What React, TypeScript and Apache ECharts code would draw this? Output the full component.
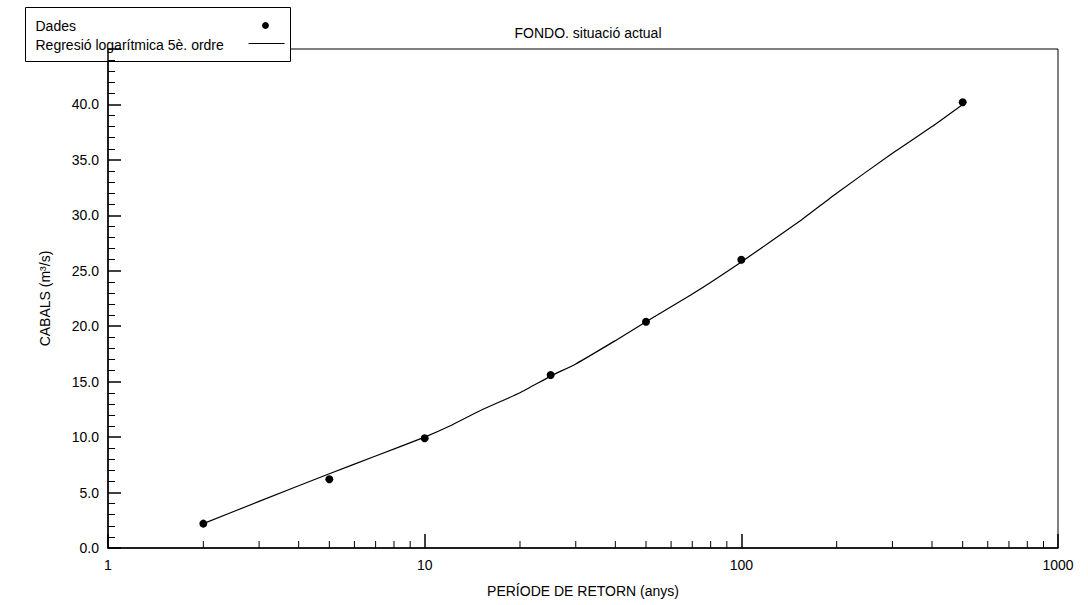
import React, { useEffect, useRef } from "react";
import * as echarts from "echarts";

const chartTitle = "FONDO. situació actual";
const xAxisName = "PERÍODE DE RETORN (anys)";
const yAxisName = "CABALS (m³/s)";
const legendLabels = ["Dades", "Regresió logarítmica 5è. ordre"];

// Observed data (return period, flow)
const dataX = [2, 5, 10, 25, 50, 100, 500];
const dataY = [2.2, 6.2, 9.9, 15.6, 20.4, 26.0, 40.2];

// Fitted regression curve
const fitX = [2, 3, 5, 7, 10, 12, 15, 20, 25, 30, 40, 50, 70, 100, 150, 200, 300, 400, 500];
const fitY = [2.2, 4.2, 6.7, 8.3, 10.0, 11.0, 12.4, 14.0, 15.5, 16.6, 18.7, 20.4, 22.9, 25.8, 29.3, 32.0, 35.6, 38.0, 40.0];

// Minor ticks of the logarithmic x axis
const minorTicksX = [2, 3, 4, 5, 6, 7, 8, 9, 20, 30, 40, 50, 60, 70, 80, 90, 200, 300, 400, 500, 600, 700, 800, 900];

const FONT = "'Liberation Sans', Arial, sans-serif";

export default function App() {
  const ref = useRef<HTMLDivElement>(null);

  useEffect(() => {
    if (!ref.current) return;
    const chart = echarts.init(ref.current, null, { renderer: "svg" });
    const option: any = {
      animation: false,
      backgroundColor: "#ffffff",
      textStyle: { fontFamily: FONT, color: "#000" },
      title: {
        text: chartTitle,
        left: 583,
        top: 21,
        textAlign: "center",
        textStyle: { fontFamily: FONT, fontSize: 14, fontWeight: "normal", color: "#000" },
      },
      grid: {
        left: 108,
        right: 30,
        top: 49,
        bottom: 57,
        show: true,
        borderColor: "#000",
        borderWidth: 1,
        backgroundColor: "transparent",
      },
      xAxis: {
        type: "log",
        logBase: 10,
        min: 1,
        max: 1000,
        name: xAxisName,
        nameLocation: "middle",
        nameGap: 36,
        nameTextStyle: { fontFamily: FONT, fontSize: 14, color: "#000" },
        axisLine: { show: true, lineStyle: { color: "#000", width: 1.5 } },
        axisTick: { show: true, inside: true, length: 14, lineStyle: { color: "#000", width: 1.5 } },
        axisLabel: {
          fontFamily: FONT,
          fontSize: 14,
          color: "#000",
          margin: 10,
          formatter: (v: number) => String(Math.round(v)),
        },
        splitLine: { show: false },
        minorTick: { show: false },
      },
      yAxis: {
        type: "value",
        min: 0,
        max: 45,
        interval: 5,
        name: yAxisName,
        nameLocation: "middle",
        nameGap: 56,
        nameRotate: 90,
        nameTextStyle: { fontFamily: FONT, fontSize: 14, color: "#000" },
        axisLine: { show: true, lineStyle: { color: "#000", width: 1.5 } },
        axisTick: { show: true, inside: true, length: 13, lineStyle: { color: "#000", width: 1.5 } },
        minorTick: { show: true, splitNumber: 5, length: 7, lineStyle: { color: "#000", width: 1 } },
        axisLabel: {
          fontFamily: FONT,
          fontSize: 14,
          color: "#000",
          margin: 9,
          formatter: (v: number) => (v >= 45 ? "" : v.toFixed(1)),
        },
        splitLine: { show: false },
        minorSplitLine: { show: false },
      },
      series: [
        {
          name: legendLabels[1],
          type: "line",
          data: fitX.map((x, i) => [x, fitY[i]]),
          showSymbol: false,
          smooth: 0.15,
          lineStyle: { color: "#000", width: 1.2 },
          itemStyle: { color: "#000" },
          z: 3,
        },
        {
          name: legendLabels[0],
          type: "scatter",
          data: dataX.map((x, i) => [x, dataY[i]]),
          symbol: "circle",
          symbolSize: 8,
          itemStyle: { color: "#000", opacity: 1 },
          z: 4,
        },
        {
          name: "minorTicksX",
          type: "custom",
          silent: true,
          data: minorTicksX.map((x) => [x, 0]),
          renderItem: (params: any, api: any) => {
            const p = api.coord([api.value(0), api.value(1)]);
            return {
              type: "line",
              shape: { x1: p[0], y1: p[1], x2: p[0], y2: p[1] - 7 },
              style: { stroke: "#000", lineWidth: 1 },
            };
          },
          z: 2,
        },
      ],
      graphic: [
        {
          type: "group",
          left: 25,
          top: 7,
          z: 100,
          children: [
            {
              type: "rect",
              shape: { x: 0, y: 0, width: 265, height: 54 },
              style: { fill: "#fff", stroke: "#000", lineWidth: 1 },
            },
            {
              type: "text",
              x: 10,
              y: 18,
              style: { text: legendLabels[0], font: `14px ${FONT}`, fill: "#000", textVerticalAlign: "middle" },
            },
            {
              type: "circle",
              shape: { cx: 240, cy: 18, r: 3.4 },
              style: { fill: "#000" },
            },
            {
              type: "text",
              x: 10,
              y: 37,
              style: { text: legendLabels[1], font: `14px ${FONT}`, fill: "#000", textVerticalAlign: "middle" },
            },
            {
              type: "line",
              shape: { x1: 223, y1: 36, x2: 259, y2: 36 },
              style: { stroke: "#000", lineWidth: 1 },
            },
          ],
        },
      ],
    };
    chart.setOption(option);
    return () => {
      chart.dispose();
    };
  }, []);

  return (
    <div
      ref={ref}
      style={{ position: "absolute", left: 0, top: 0, width: 1088, height: 605, background: "#fff" }}
    />
  );
}
